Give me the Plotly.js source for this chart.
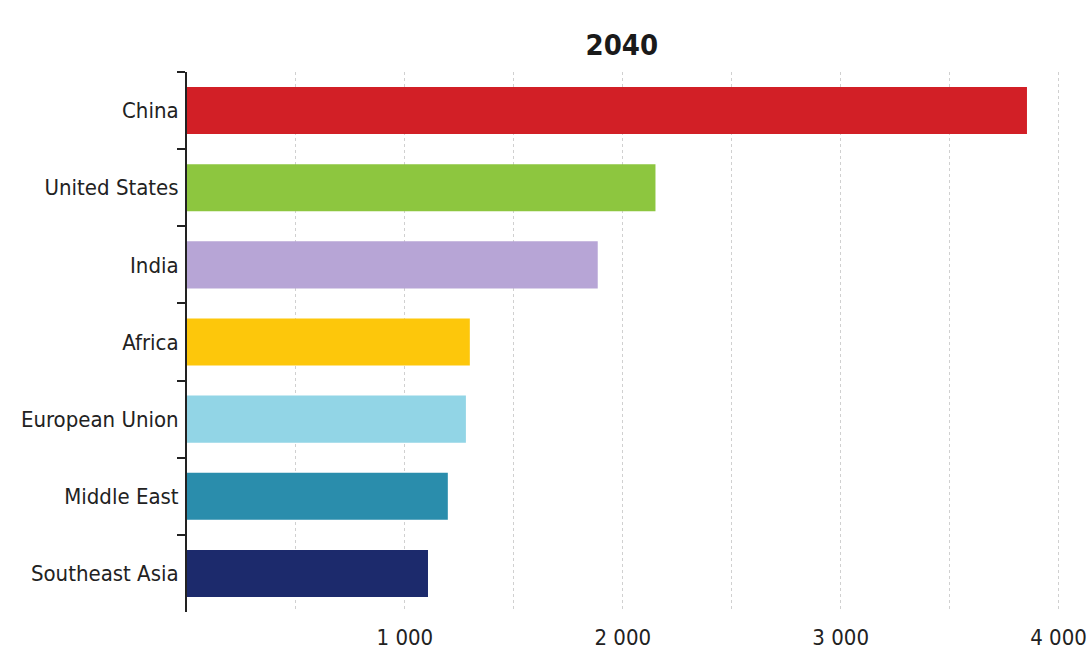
<!DOCTYPE html>
<html><head><meta charset="utf-8">
<script src="https://cdn.plot.ly/plotly-3.0.1.min.js"></script>
<style>html,body{margin:0;padding:0;background:#fff}#chart{width:1091px;height:659px}</style>
</head><body><div id="chart"></div>
<script>
const regions = ["China","United States","India","Africa","European Union","Middle East","Southeast Asia"];
const values2040 = [3855, 2150, 1885, 1298, 1280, 1197, 1106];
const barColors = ["#d21f26","#8dc63f","#b7a5d6","#fdc70b","#92d5e6","#2a8dac","#1c2a6c"];
const xTickVals = [500,1000,1500,2000,2500,3000,3500,4000];
const xTickText = ["","1 000","","2 000","","3 000","","4 000"];
const chartTitle = "2040";

const font = "'DejaVu Sans Condensed','Liberation Sans Narrow','Open Sans',sans-serif";
const trace = {
  type: "bar", orientation: "h",
  y: regions, x: values2040,
  marker: {color: barColors, line: {width: 0}},
  hoverinfo: "x+y"
};
const layout = {
  width: 1091, height: 659,
  margin: {l: 187, r: 15, t: 72, b: 47},
  paper_bgcolor: "#fff", plot_bgcolor: "#fff",
  showlegend: false,
  bargap: 0.39,
  title: {text: "<b>" + chartTitle + "</b>", x: 0.57, xanchor: "center", y: 1 - 45/659, yref: "container", yanchor: "middle",
          font: {family: font, size: 29, color: "#1a1a1a"}},
  xaxis: {
    range: [0, 4080], tickvals: xTickVals, ticktext: xTickText,
    showgrid: true, gridcolor: "#d0d0d0", griddash: "dot", gridwidth: 1,
    zeroline: false, showline: false, ticks: "",
    tickfont: {family: font, size: 22, color: "#222"}, ticklabelstandoff: 10
  },
  yaxis: {
    autorange: "reversed", type: "category",
    showline: true, linecolor: "#222", linewidth: 2,
    ticks: "outside", tickson: "boundaries", ticklen: 8, tickwidth: 2, tickcolor: "#222",
    showgrid: false, zeroline: false,
    tickfont: {family: font, size: 22, color: "#222"}, ticklabelstandoff: 2
  }
};
Plotly.newPlot("chart", [trace], layout, {displayModeBar: false, staticPlot: true});
</script></body></html>
